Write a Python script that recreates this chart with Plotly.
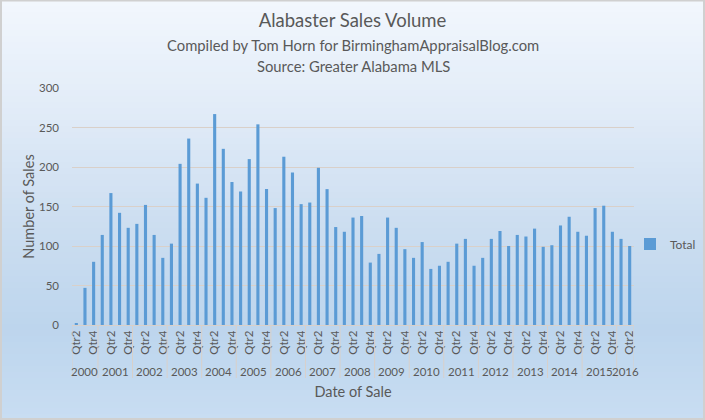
import plotly.graph_objects as go

# ---------------- data ----------------
years = list(range(2000, 2017))
quarter_names = ["Qtr1", "Qtr2", "Qtr3", "Qtr4"]
first_quarter = 2   # series starts 2000 Qtr2
last_quarter = 2    # series ends 2016 Qtr2

sales = [
    2, 47, 80,                 # 2000
    114, 167, 142, 123,        # 2001
    128, 152, 114, 85,         # 2002
    103, 204, 236, 179,        # 2003
    161, 267, 223, 181,        # 2004
    169, 210, 254, 172,        # 2005
    148, 213, 193, 153,        # 2006
    155, 199, 172, 124,        # 2007
    118, 136, 138, 79,         # 2008
    90, 136, 123, 96,          # 2009
    85, 105, 71, 75,           # 2010
    80, 103, 109, 75,          # 2011
    85, 109, 119, 100,         # 2012
    114, 112, 122, 99,         # 2013
    101, 126, 137, 118,        # 2014
    113, 148, 151, 118,        # 2015
    109, 100,                  # 2016
]
y_ticks = [0, 50, 100, 150, 200, 250, 300]

# ---------------- categories ----------------
periods = []
for yr in years:
    for qi, qn in enumerate(quarter_names, start=1):
        if yr == years[0] and qi < first_quarter:
            continue
        if yr == years[-1] and qi > last_quarter:
            continue
        periods.append((yr, qi, qn))

cats = [f"{yr} {qn}" for yr, qi, qn in periods]
tickvals = [c for (yr, qi, qn), c in zip(periods, cats) if qi in (2, 4)]
ticktext = [qn for yr, qi, qn in periods if qi in (2, 4)]

# ---------------- style ----------------
FONT = "Lato"
TXT = "#595959"
GRID = "#d9d0c9"
BAR = "#5b9bd5"

W, H = 705, 420
ml, mr, mt, mb = 72, 71, 88, 95
pw, ph = W - ml - mr, H - mt - mb

def px_x(px):
    return (px - ml) / pw

def px_y(py):
    return (H - mb - py) / ph

fig = go.Figure()
fig.add_trace(go.Bar(
    x=cats, y=sales, name="Total",
    marker=dict(color=BAR, line=dict(width=0)),
    showlegend=True,
))

shapes = []
# background gradient (bands)
stops = [(0.0, (242, 247, 253)), (0.25, (226, 236, 248)), (0.55, (203, 221, 240)),
         (0.78, (189, 213, 237)), (1.0, (200, 221, 242))]

def col_at(t):
    for (t0, c0), (t1, c1) in zip(stops[:-1], stops[1:]):
        if t0 <= t <= t1:
            f = (t - t0) / (t1 - t0) if t1 > t0 else 0
            return tuple(round(a + (b - a) * f) for a, b in zip(c0, c1))
    return stops[-1][1]

nb = 70
for i in range(nb):
    top = H * i / nb
    bot = H * (i + 1) / nb + 0.6
    c = col_at((i + 0.5) / nb)
    shapes.append(dict(type="rect", xref="paper", yref="paper", layer="below",
                       x0=px_x(0), x1=px_x(W), y0=px_y(bot), y1=px_y(top),
                       fillcolor=f"rgb{c}", line=dict(width=0)))
# border
shapes.append(dict(type="rect", xref="paper", yref="paper", layer="above",
                   x0=px_x(1), x1=px_x(W - 1), y0=px_y(H - 1), y1=px_y(0.5),
                   line=dict(color="#d0d0d0", width=2), fillcolor="rgba(0,0,0,0)"))

# year dividers and year labels
annotations = []
idx = 0
bounds = [-0.5]
for yr in years:
    n = sum(1 for p in periods if p[0] == yr)
    center = idx + (n - 1) / 2
    annotations.append(dict(x=center, y=px_y(371), xref="x", yref="paper",
                            text=str(yr), showarrow=False, yanchor="middle",
                            font=dict(family=FONT, size=11.5, color=TXT)))
    idx += n
    bounds.append(idx - 0.5)
for b in bounds:
    shapes.append(dict(type="line", xref="x", yref="paper", x0=b, x1=b,
                       y0=0, y1=px_y(378), line=dict(color=GRID, width=1)))

# subtitles
annotations.append(dict(x=0.5, y=px_y(45), xref="paper", yref="paper",
                        text="Compiled by Tom Horn for BirminghamAppraisalBlog.com",
                        showarrow=False, yanchor="middle",
                        font=dict(family=FONT, size=14.8, color=TXT)))
annotations.append(dict(x=0.5, y=px_y(66), xref="paper", yref="paper",
                        text="Source: Greater Alabama MLS",
                        showarrow=False, yanchor="middle",
                        font=dict(family=FONT, size=14.8, color=TXT)))

fig.update_layout(
    width=W, height=H,
    margin=dict(l=ml, r=mr, t=mt, b=mb, autoexpand=False),
    paper_bgcolor="rgba(0,0,0,0)",
    plot_bgcolor="rgba(0,0,0,0)",
    font=dict(family=FONT, color=TXT),
    title=dict(text="Alabaster Sales Volume", x=0.5, xanchor="center",
               y=1 - 21 / H, yanchor="middle", yref="container",
               font=dict(family=FONT, size=18.5, color=TXT)),
    bargap=0.64,
    shapes=shapes,
    annotations=annotations,
    legend=dict(x=px_x(630), y=px_y(244), xanchor="left", yanchor="middle",
                bgcolor="rgba(0,0,0,0)", font=dict(family=FONT, size=12, color=TXT),
                itemwidth=30),
)
fig.update_xaxes(
    type="category", categoryorder="array", categoryarray=cats,
    range=[-0.5, len(cats) - 0.5],
    tickmode="array", tickvals=tickvals, ticktext=ticktext,
    tickangle=-90, tickfont=dict(family=FONT, size=11.5, color=TXT),
    showgrid=False, ticks="", showline=True, linecolor=GRID, linewidth=1,
    zeroline=False, automargin=False,
    title=dict(text="Date of Sale", standoff=33,
               font=dict(family=FONT, size=14.5, color=TXT)),
)
fig.update_yaxes(
    range=[0, 300], tickmode="array", tickvals=y_ticks,
    tickfont=dict(family=FONT, size=11.5, color=TXT),
    showgrid=True, gridcolor=GRID, gridwidth=1, zeroline=False,
    showline=False, ticks="", ticklabelstandoff=12, automargin=False,
    title=dict(text="Number of Sales", standoff=0,
               font=dict(family=FONT, size=14.5, color=TXT)),
)

fig.write_html("out.html")
